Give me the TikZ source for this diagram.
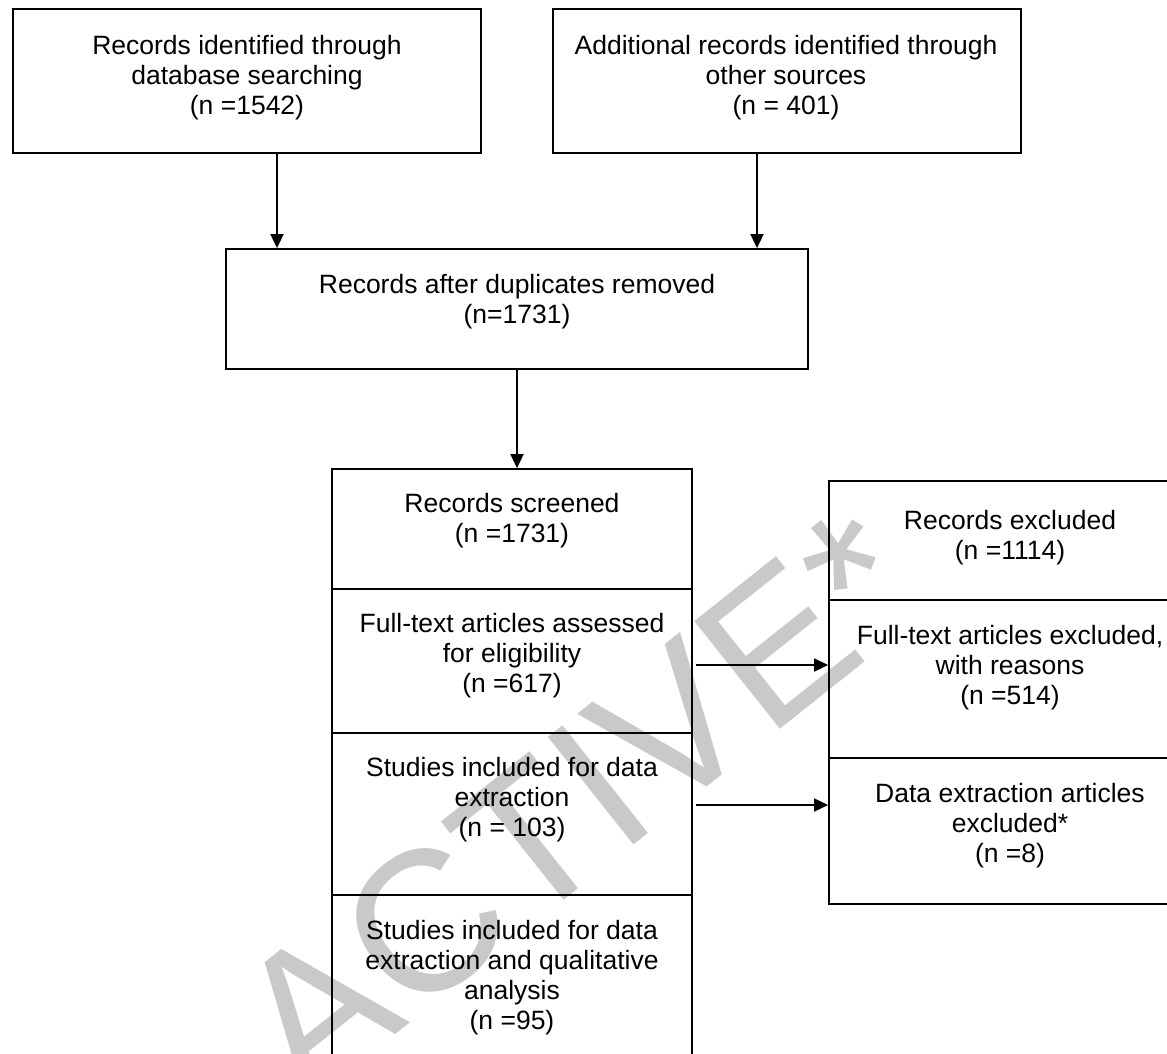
\documentclass[tikz,border=0pt]{standalone}
\usepackage{fontspec}
\setmainfont{Liberation Sans}
\usetikzlibrary{arrows.meta}
\begin{document}
\begin{tikzpicture}[x=1pt,y=-1pt,
  box/.style={draw, line width=1.8pt, rectangle, inner sep=0pt},
  txt/.style={align=center, inner sep=0pt, font=\fontsize{26.5}{30}\selectfont},
  arr/.style={line width=1.8pt, -{Triangle[length=14pt,width=13pt]}}]
\useasboundingbox (0,0) rectangle (1167,1053);
\clip (0,0) rectangle (1167,1053);
% watermark
\node[rotate=38.5, anchor=base west, inner sep=0pt, text=black!21,
      font=\fontsize{200}{210}\selectfont] (wm) at (306,1106) {ACTIVE*};
% boxes
\node[box, minimum width=468pt, minimum height=144pt] (b1) at (247,81) {};
\node[box, minimum width=468pt, minimum height=144pt] (b2) at (787,81) {};
\node[box, minimum width=582pt, minimum height=120pt] (b3) at (517,309) {};
\node[box, minimum width=360pt, minimum height=120pt] (s1) at (512,529) {};
\node[box, minimum width=360pt, minimum height=144pt] (s2) at (512,661) {};
\node[box, minimum width=360pt, minimum height=162pt] (s3) at (512,814) {};
\node[box, minimum width=360pt, minimum height=175pt] (s4) at (512,982.5) {};
\node[box, minimum width=362pt, minimum height=119pt] (e1) at (1010,540.5) {};
\node[box, minimum width=362pt, minimum height=158pt] (e2) at (1010,679) {};
\node[box, minimum width=362pt, minimum height=146pt] (e3) at (1010,831) {};
% texts
\node[txt] (t1) at (247,78) {Records identified through\\database searching\\(n =1542)};
\node[txt] (t2) at (786,78) {Additional records identified through\\other sources\\(n = 401)};
\node[txt] (t3) at (517,302) {Records after duplicates removed\\(n=1731)};
\node[txt] (ts1) at (512,521) {Records screened\\(n =1731)};
\node[txt] (ts2) at (512,656) {Full-text articles assessed\\for eligibility\\(n =617)};
\node[txt] (ts3) at (512,800) {Studies included for data\\extraction\\(n = 103)};
\node[txt] (ts4) at (512,978) {Studies included for data\\extraction and qualitative\\analysis\\(n =95)};
\node[txt] (te1) at (1010,538) {Records excluded\\(n =1114)};
\node[txt] (te2) at (1010,668) {Full-text articles excluded,\\with reasons\\(n =514)};
\node[txt] (te3) at (1010,826) {Data extraction articles\\excluded*\\(n =8)};
% connectors
\draw[arr] ([xshift=30pt]b1.south) -- ([xshift=30pt]b1.south |- b3.north);
\draw[arr] ([xshift=-30pt]b2.south) -- ([xshift=-30pt]b2.south |- b3.north);
\draw[arr] (b3.south) -- (b3.south |- s1.north);
\coordinate (c1) at (696,665);
\coordinate (c2) at (696,805);
\draw[arr] (c1) -- (c1 -| e2.west);
\draw[arr] (c2) -- (c2 -| e3.west);
\end{tikzpicture}
\end{document}
